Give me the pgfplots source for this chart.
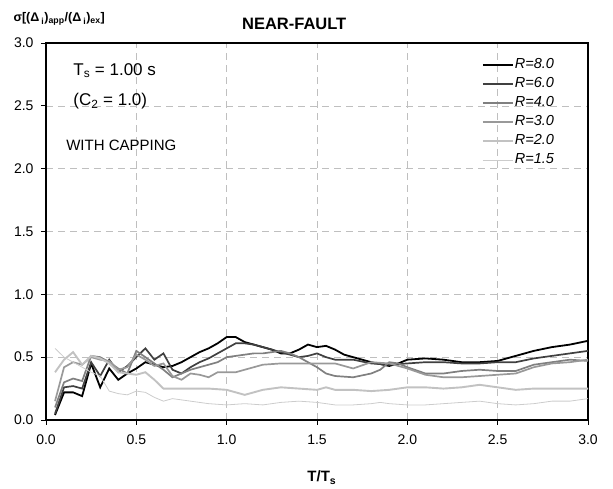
\documentclass[border=0pt]{standalone}
\usepackage{fontspec}
\setmainfont{Liberation Sans}
\usepackage{pgfplots}
\pgfplotsset{compat=1.18}

\definecolor{rsix}{gray}{0.25}
\definecolor{rfour}{gray}{0.50}
\definecolor{rthree}{gray}{0.60}
\definecolor{rtwo}{gray}{0.76}
\definecolor{ronefive}{gray}{0.80}
\definecolor{gridgray}{gray}{0.75}

\begin{document}
\begin{tikzpicture}
\begin{axis}[
    scale only axis,
    width=542pt, height=377pt,
    clip=false,
    xmin=0, xmax=3, ymin=0, ymax=3,
    xtick={0,0.5,...,3}, ytick={0,0.5,...,3},
    axis line style={line width=1.6pt},
    tick align=outside,
    major tick length=5pt,
    tick style={black, line width=0.8pt},
    xtick pos=bottom, ytick pos=left,
    grid=major,
    major grid style={gridgray, dash pattern=on 7pt off 5pt, line width=0.6pt},
    /pgf/number format/assume math mode=true,
    /pgf/number format/.cd, fixed, fixed zerofill, precision=1, /pgfplots/.cd,
    tick label style={font=\fontsize{14}{16}\selectfont},
    xticklabel style={yshift=-6pt},
    yticklabel style={xshift=-4pt},
    legend style={at={(rel axis cs:0.804,0.962)}, anchor=north west, draw=none, fill=none,
        font=\itshape\fontsize{14.5}{16}\selectfont, row sep=4pt, inner sep=0pt,
        nodes={inner sep=1pt, text height=10pt, text depth=3pt}},
    legend cell align=left,
    legend image code/.code={\draw[#1] (0pt,0pt) -- (30pt,0pt);},
]
\addplot[black, line width=1.8pt] coordinates {
(0.05,0.04)(0.10,0.22)(0.15,0.22)(0.20,0.19)(0.25,0.45)(0.30,0.26)(0.35,0.41)(0.40,0.32)(0.45,0.37)(0.50,0.41)
(0.55,0.46)(0.60,0.44)(0.65,0.42)(0.70,0.43)(0.75,0.46)(0.80,0.50)(0.85,0.54)(0.90,0.57)(0.95,0.61)(1.00,0.66)
(1.05,0.66)(1.10,0.62)(1.15,0.60)(1.20,0.58)(1.25,0.56)(1.30,0.53)(1.35,0.53)(1.40,0.56)(1.45,0.60)(1.50,0.58)
(1.55,0.59)(1.60,0.56)(1.65,0.52)(1.70,0.50)(1.80,0.46)(1.90,0.43)(1.95,0.45)(2.00,0.48)(2.10,0.49)(2.20,0.48)
(2.30,0.46)(2.40,0.46)(2.50,0.47)(2.60,0.51)(2.70,0.55)(2.80,0.58)(2.90,0.60)(3.00,0.63)};
\addlegendentry{{R=8.0}}
\addplot[rsix, line width=1.7pt] coordinates {
(0.05,0.05)(0.10,0.26)(0.15,0.27)(0.20,0.25)(0.25,0.46)(0.30,0.35)(0.35,0.48)(0.40,0.38)(0.45,0.43)(0.50,0.50)
(0.55,0.57)(0.60,0.48)(0.65,0.53)(0.70,0.40)(0.75,0.37)(0.80,0.42)(0.85,0.46)(0.90,0.49)(0.95,0.53)(1.00,0.57)
(1.05,0.61)(1.10,0.61)(1.15,0.60)(1.20,0.58)(1.25,0.56)(1.30,0.54)(1.35,0.52)(1.40,0.50)(1.45,0.51)(1.50,0.53)
(1.55,0.50)(1.60,0.48)(1.70,0.48)(1.80,0.45)(1.90,0.44)(2.00,0.45)(2.10,0.46)(2.20,0.46)(2.30,0.45)(2.40,0.45)
(2.50,0.46)(2.60,0.46)(2.70,0.49)(2.80,0.51)(2.90,0.53)(3.00,0.55)};
\addlegendentry{{R=6.0}}
\addplot[rfour, line width=1.7pt] coordinates {
(0.05,0.10)(0.10,0.30)(0.15,0.33)(0.20,0.31)(0.25,0.51)(0.30,0.50)(0.35,0.46)(0.40,0.41)(0.45,0.37)(0.50,0.55)
(0.55,0.50)(0.60,0.45)(0.65,0.40)(0.70,0.34)(0.75,0.37)(0.80,0.40)(0.85,0.42)(0.90,0.44)(0.95,0.46)(1.00,0.50)
(1.05,0.51)(1.10,0.52)(1.15,0.53)(1.20,0.53)(1.25,0.54)(1.30,0.55)(1.35,0.53)(1.40,0.50)(1.45,0.46)(1.50,0.42)
(1.55,0.37)(1.60,0.35)(1.70,0.34)(1.80,0.37)(1.85,0.40)(1.90,0.46)(1.95,0.45)(2.00,0.42)(2.10,0.37)(2.20,0.37)
(2.30,0.39)(2.40,0.40)(2.50,0.39)(2.60,0.39)(2.70,0.44)(2.80,0.46)(2.90,0.48)(3.00,0.47)};
\addlegendentry{{R=4.0}}
\addplot[rthree, line width=1.7pt] coordinates {
(0.05,0.15)(0.10,0.42)(0.15,0.46)(0.20,0.44)(0.25,0.50)(0.30,0.48)(0.35,0.47)(0.40,0.40)(0.45,0.42)(0.50,0.52)
(0.55,0.48)(0.60,0.43)(0.65,0.45)(0.70,0.35)(0.75,0.32)(0.80,0.37)(0.85,0.36)(0.90,0.34)(0.95,0.38)(1.00,0.38)
(1.05,0.38)(1.10,0.40)(1.15,0.42)(1.20,0.44)(1.30,0.45)(1.40,0.45)(1.50,0.45)(1.60,0.45)(1.70,0.41)(1.80,0.46)
(1.90,0.45)(2.00,0.41)(2.10,0.36)(2.20,0.34)(2.30,0.34)(2.40,0.35)(2.50,0.36)(2.60,0.37)(2.70,0.42)(2.80,0.45)
(2.90,0.46)(3.00,0.48)};
\addlegendentry{{R=3.0}}
\addplot[rtwo, line width=1.9pt] coordinates {
(0.05,0.38)(0.10,0.48)(0.15,0.54)(0.20,0.44)(0.25,0.51)(0.30,0.49)(0.35,0.45)(0.40,0.38)(0.45,0.37)(0.50,0.36)
(0.55,0.38)(0.60,0.32)(0.65,0.25)(0.70,0.25)(0.80,0.25)(0.90,0.25)(1.00,0.24)(1.10,0.20)(1.20,0.24)(1.30,0.26)
(1.40,0.25)(1.50,0.24)(1.55,0.26)(1.60,0.24)(1.70,0.24)(1.80,0.23)(1.90,0.24)(2.00,0.26)(2.10,0.26)(2.20,0.25)
(2.30,0.26)(2.40,0.28)(2.50,0.26)(2.60,0.24)(2.70,0.25)(2.80,0.25)(2.90,0.25)(3.00,0.25)};
\addlegendentry{{R=2.0}}
\addplot[ronefive, line width=0.8pt] coordinates {
(0.05,0.57)(0.10,0.50)(0.15,0.46)(0.20,0.42)(0.25,0.38)(0.30,0.35)(0.35,0.23)(0.40,0.21)(0.45,0.20)(0.50,0.23)
(0.55,0.22)(0.60,0.18)(0.65,0.15)(0.70,0.17)(0.75,0.16)(0.80,0.15)(0.90,0.13)(1.00,0.12)(1.10,0.13)(1.20,0.12)
(1.30,0.14)(1.40,0.15)(1.50,0.14)(1.60,0.12)(1.70,0.12)(1.80,0.13)(1.85,0.14)(1.90,0.13)(2.00,0.12)(2.10,0.12)
(2.20,0.13)(2.30,0.14)(2.40,0.15)(2.50,0.13)(2.60,0.12)(2.70,0.13)(2.80,0.15)(2.90,0.15)(3.00,0.17)};
\addlegendentry{{R=1.5}}

% annotations
\node[anchor=base west, font=\fontsize{17}{19}\selectfont] at (rel axis cs:0.044,0.915) {T\textsubscript{s} = 1.00 s};
\node[anchor=base west, font=\fontsize{17}{19}\selectfont] at (rel axis cs:0.044,0.833) {(C\textsubscript{2} = 1.0)};
\node[anchor=base west, font=\fontsize{15}{17}\selectfont] at (rel axis cs:0.031,0.716) {WITH CAPPING};
\node[anchor=base, font=\bfseries\fontsize{16.5}{18}\selectfont] at ([yshift=13pt]rel axis cs:0.458,1) {NEAR-FAULT};
\node[anchor=base west, font=\bfseries\fontsize{12.5}{14}\selectfont] at ([xshift=-36pt,yshift=21pt]rel axis cs:0,1)
  {σ[(Δ\,\textsubscript{i})\textsubscript{app}/(Δ\,\textsubscript{i})\textsubscript{ex}]};
\node[anchor=base, font=\bfseries\fontsize{15}{17}\selectfont] at ([yshift=-62pt]rel axis cs:0.509,0) {T/T\textsubscript{s}};
% page frame
\path ([xshift=-46pt,yshift=-69pt]rel axis cs:0,0) rectangle ([xshift=25pt,yshift=43pt]rel axis cs:1,1);
\end{axis}
\end{tikzpicture}
\end{document}
